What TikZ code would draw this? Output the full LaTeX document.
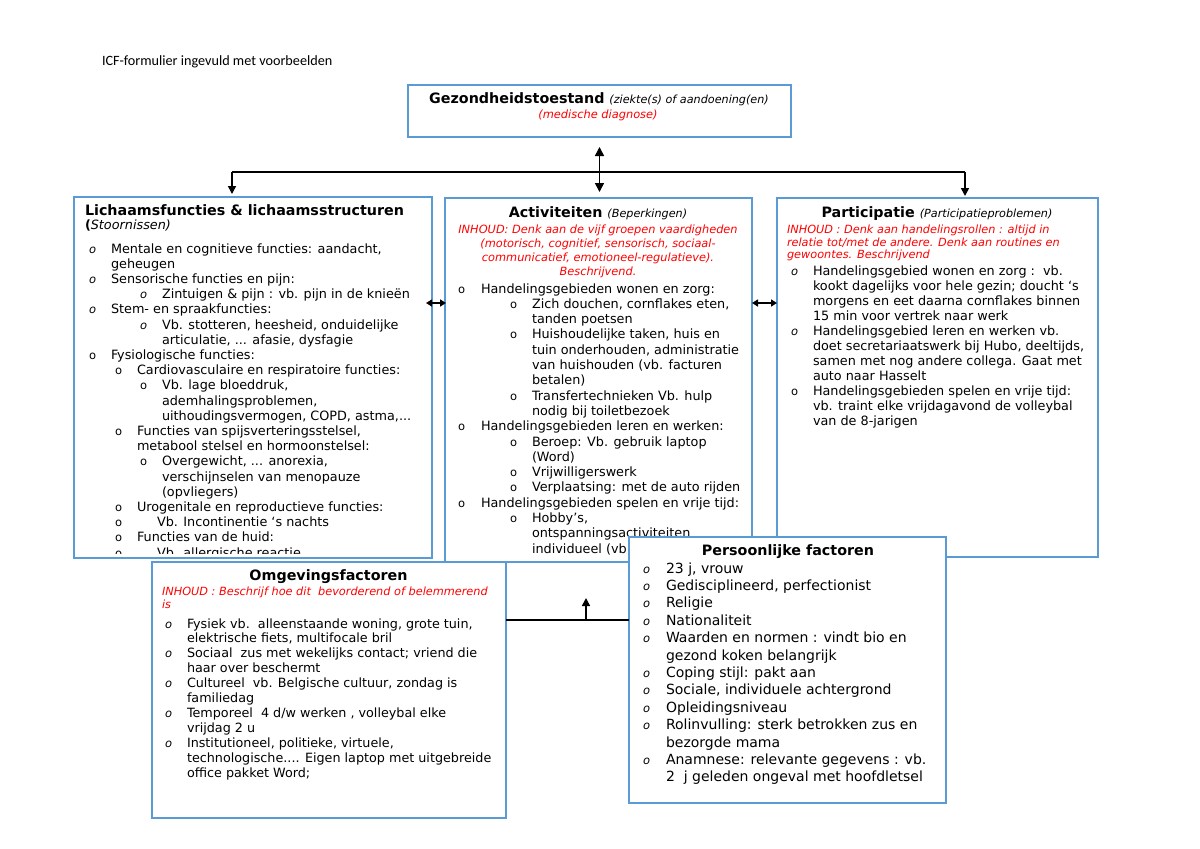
\documentclass[tikz,border=0pt]{standalone}
\usepackage{fontspec}
\setmainfont{DejaVu Sans}
\newfontfamily\calibfont{Carlito}
\usetikzlibrary{arrows.meta}
\definecolor{boxblue}{RGB}{91,155,213}
\newcounter{tn}
\newcommand\fz[2]{\fontsize{#1pt}{#2pt}\selectfont}
\tikzset{
 txt/.style={inner sep=0pt,outer sep=0pt,anchor=base west},
 ctxt/.style={inner sep=0pt,outer sep=0pt,anchor=base},
 box/.style={draw=boxblue,line width=2pt,fill=white,inner sep=0pt,outer sep=0pt},
 conn/.style={line width=1.6pt,black},
 arr/.style={conn,-{Triangle[length=8pt,width=8pt]}},
 dbl/.style={conn,{Triangle[length=9pt,width=9pt]}-{Triangle[length=9pt,width=9pt]}},
 sdbl/.style={conn,{Triangle[length=6pt,width=7pt]}-{Triangle[length=6pt,width=7pt]}},
}
\newcommand\txtL[3]{\stepcounter{tn}\node[txt] (t\arabic{tn}) at ({#1},{#2}) {#3};}
\newcommand\txtC[3]{\stepcounter{tn}\node[ctxt] (t\arabic{tn}) at ({#1},{#2}) {#3};}
\newcommand\lineL[3]{\txtL{#1}{253+15.2*#2}{#3}}
\newcommand\lineM[3]{\txtL{#1}{293+15.3*#2}{#3}}
\newcommand\lineR[3]{\txtL{#1}{275+15*#2}{#3}}
\newcommand\lineO[3]{\txtL{#1}{628+14.9*#2}{#3}}
\newcommand\lineP[3]{\txtL{#1}{573+17.4*#2}{#3}}
\newcommand\bit{{\fz{11.5}{11}\itshape o}}
\newcommand\bup{{\fz{11.5}{11}o}}
\newcommand\hd{\fz{14.3}{16}\bfseries}
\newcommand\sub{\fz{11.2}{12}\mdseries\itshape}
\begin{document}
\begin{tikzpicture}[x=1pt,y=-1pt]
\useasboundingbox (0,0) rectangle (1200,849);
\fill[white] (0,0) rectangle (1200,849);
\txtL{102}{65}{\calibfont\fz{14.2}{16}ICF-formulier ingevuld met voorbeelden}

% top box
\node[box,line width=2.5pt,minimum width=383pt,minimum height=52pt] (gez) at (599.5,111) {};
\txtC{599}{103}{\hd Gezondheidstoestand \sub (ziekte(s) of aandoening(en)}
\txtC{598}{118}{\fz{11.4}{13}\itshape\color{red}(medische diagnose)}

% left box
\node[box,minimum width=358pt,minimum height=361pt] (lich) at (253,377.5) {};
\begin{scope}[txt/.append style={font=\fz{12.8}{15}}]
\clip ([xshift=1pt,yshift=5pt]lich.south west) rectangle ([xshift=-1pt,yshift=-1pt]lich.north east);
\txtL{85}{215}{\hd Lichaamsfuncties \& lichaamsstructuren}
\txtL{85}{229}{\bfseries(\mdseries\itshape Stoornissen)}
\lineL{89}{0}{\bit}\lineL{111}{0}{Mentale en cognitieve functies: aandacht,}
\lineL{111}{1}{geheugen}
\lineL{89}{2}{\bit}\lineL{111}{2}{Sensorische functies en pijn:}
\lineL{140}{3}{\bit}\lineL{162}{3}{Zintuigen \& pijn : vb. pijn in de knieën}
\lineL{89}{4}{\bit}\lineL{111}{4}{Stem- en spraakfuncties:}
\lineL{140}{5}{\bit}\lineL{162}{5}{Vb. stotteren, heesheid, onduidelijke}
\lineL{162}{6}{articulatie, ... afasie, dysfagie}
\lineL{89}{7}{\bup}\lineL{111}{7}{Fysiologische functies:}
\lineL{115}{8}{\bup}\lineL{137}{8}{Cardiovasculaire en respiratoire functies:}
\lineL{140}{9}{\bup}\lineL{162}{9}{Vb. lage bloeddruk,}
\lineL{162}{10}{ademhalingsproblemen,}
\lineL{162}{11}{uithoudingsvermogen, COPD, astma,...}
\lineL{115}{12}{\bup}\lineL{137}{12}{Functies van spijsverteringsstelsel,}
\lineL{137}{13}{metabool stelsel en hormoonstelsel:}
\lineL{140}{14}{\bup}\lineL{162}{14}{Overgewicht, ... anorexia,}
\lineL{162}{15}{verschijnselen van menopauze}
\lineL{162}{16}{(opvliegers)}
\lineL{115}{17}{\bup}\lineL{137}{17}{Urogenitale en reproductieve functies:}
\lineL{115}{18}{\bup}\lineL{157}{18}{Vb. Incontinentie ‘s nachts}
\lineL{115}{19}{\bup}\lineL{137}{19}{Functies van de huid:}
\lineL{115}{20}{\bup}\lineL{157}{20}{Vb. allergische reactie}
\end{scope}

% middle box
\node[box,minimum width=307pt,minimum height=364pt] (act) at (598.5,380) {};
\begin{scope}[txt/.append style={font=\fz{12.8}{15}}]
\clip ([xshift=1pt,yshift=1pt]act.south west) rectangle ([xshift=-1pt,yshift=-1pt]act.north east);
\txtC{598}{217}{\hd Activiteiten \sub (Beperkingen)}
\txtC{598}{233}{\fz{11.35}{14}\itshape\color{red}INHOUD: Denk aan de vijf groepen vaardigheden}
\txtC{598}{247}{\fz{11.35}{14}\itshape\color{red}(motorisch, cognitief, sensorisch, sociaal-}
\txtC{598}{261}{\fz{11.35}{14}\itshape\color{red}communicatief, emotioneel-regulatieve).}
\txtC{598}{275}{\fz{11.35}{14}\itshape\color{red}Beschrijvend.}
\lineM{458}{0}{\bup}\lineM{481}{0}{Handelingsgebieden wonen en zorg:}
\lineM{510}{1}{\bup}\lineM{532}{1}{Zich douchen, cornflakes eten,}
\lineM{532}{2}{tanden poetsen}
\lineM{510}{3}{\bup}\lineM{532}{3}{Huishoudelijke taken, huis en}
\lineM{532}{4}{tuin onderhouden, administratie}
\lineM{532}{5}{van huishouden (vb. facturen}
\lineM{532}{6}{betalen)}
\lineM{510}{7}{\bup}\lineM{532}{7}{Transfertechnieken Vb. hulp}
\lineM{532}{8}{nodig bij toiletbezoek}
\lineM{458}{9}{\bup}\lineM{481}{9}{Handelingsgebieden leren en werken:}
\lineM{510}{10}{\bup}\lineM{532}{10}{Beroep: Vb. gebruik laptop}
\lineM{532}{11}{(Word)}
\lineM{510}{12}{\bup}\lineM{532}{12}{Vrijwilligerswerk}
\lineM{510}{13}{\bup}\lineM{532}{13}{Verplaatsing: met de auto rijden}
\lineM{458}{14}{\bup}\lineM{481}{14}{Handelingsgebieden spelen en vrije tijd:}
\lineM{510}{15}{\bup}\lineM{532}{15}{Hobby’s,}
\lineM{532}{16}{ontspanningsactiviteiten}
\lineM{532}{17}{individueel (vb}
\end{scope}

% right box
\node[box,minimum width=321pt,minimum height=359pt] (part) at (937.5,377.5) {};
\begin{scope}[txt/.append style={font=\fz{12.8}{15}}]
\txtC{937}{217}{\hd Participatie \sub (Participatieproblemen)}
\txtL{787}{233}{\fz{11.3}{12}\itshape\color{red}INHOUD : Denk aan handelingsrollen : altijd in}
\txtL{787}{246}{\fz{11.3}{12}\itshape\color{red}relatie tot/met de andere. Denk aan routines en}
\txtL{787}{258}{\fz{11.3}{12}\itshape\color{red}gewoontes. Beschrijvend}
\lineR{791}{0}{\bit}\lineR{813}{0}{Handelingsgebied wonen en zorg :\ \ vb.}
\lineR{813}{1}{kookt dagelijks voor hele gezin; doucht ‘s}
\lineR{813}{2}{morgens en eet daarna cornflakes binnen}
\lineR{813}{3}{15 min voor vertrek naar werk}
\lineR{791}{4}{\bit}\lineR{813}{4}{Handelingsgebied leren en werken vb.}
\lineR{813}{5}{doet secretariaatswerk bij Hubo, deeltijds,}
\lineR{813}{6}{samen met nog andere collega. Gaat met}
\lineR{813}{7}{auto naar Hasselt}
\lineR{791}{8}{\bup}\lineR{813}{8}{Handelingsgebieden spelen en vrije tijd:}
\lineR{813}{9}{vb. traint elke vrijdagavond de volleybal}
\lineR{813}{10}{van de 8-jarigen}
\end{scope}

% top connectors
\coordinate (hubL) at (232,172);
\coordinate (hubR) at (965,172);
\draw[conn] (hubL) -- (hubR);
\draw[arr] (hubL) -- ([yshift=3pt]hubL |- lich.north);
\draw[arr] (hubR) -- ([yshift=2pt]hubR |- part.north);
\draw[dbl] ([yshift=-10pt]gez.south) -- ([yshift=6pt]gez.south |- act.north);
\coordinate (yA) at (0,303);
\coordinate (la) at (lich.east |- yA);
\coordinate (lb) at (act.west |- yA);
\coordinate (ra) at (act.east |- yA);
\coordinate (rb) at (part.west |- yA);
\draw[sdbl] ([xshift=-6pt]la) -- ([xshift=1pt]lb);
\draw[sdbl] (ra) -- (rb);

% Omgevingsfactoren
\node[box,minimum width=354pt,minimum height=256pt] (omg) at (329,690) {};
\begin{scope}[txt/.append style={font=\fz{12.75}{15}}]
\txtC{328.5}{580}{\hd Omgevingsfactoren}
\txtL{162}{595}{\fz{11.3}{13}\itshape\color{red}INHOUD : Beschrijf hoe dit\ \ bevorderend of belemmerend}
\txtL{162}{608}{\fz{11.3}{13}\itshape\color{red}is}
\lineO{165}{0}{\bit}\lineO{187}{0}{Fysiek vb.\ \ alleenstaande woning, grote tuin,}
\lineO{187}{1}{elektrische fiets, multifocale bril}
\lineO{165}{2}{\bit}\lineO{187}{2}{Sociaal\ \ zus met wekelijks contact; vriend die}
\lineO{187}{3}{haar over beschermt}
\lineO{165}{4}{\bit}\lineO{187}{4}{Cultureel\ \ vb. Belgische cultuur, zondag is}
\lineO{187}{5}{familiedag}
\lineO{165}{6}{\bit}\lineO{187}{6}{Temporeel\ \ 4 d/w werken , volleybal elke}
\lineO{187}{7}{vrijdag 2 u}
\lineO{165}{8}{\bit}\lineO{187}{8}{Institutioneel, politieke, virtuele,}
\lineO{187}{9}{technologische.... Eigen laptop met uitgebreide}
\lineO{187}{10}{office pakket Word;}
\end{scope}

% Persoonlijke factoren
\node[box,minimum width=317pt,minimum height=266pt] (pers) at (787.5,670) {};
\begin{scope}[txt/.append style={font=\fz{14}{17}}]
\txtC{788}{555}{\hd Persoonlijke factoren}
\lineP{643}{0}{\bit}\lineP{666}{0}{23 j, vrouw}
\lineP{643}{1}{\bit}\lineP{666}{1}{Gedisciplineerd, perfectionist}
\lineP{643}{2}{\bit}\lineP{666}{2}{Religie}
\lineP{643}{3}{\bit}\lineP{666}{3}{Nationaliteit}
\lineP{643}{4}{\bit}\lineP{666}{4}{Waarden en normen : vindt bio en}
\lineP{666}{5}{gezond koken belangrijk}
\lineP{643}{6}{\bit}\lineP{666}{6}{Coping stijl: pakt aan}
\lineP{643}{7}{\bit}\lineP{666}{7}{Sociale, individuele achtergrond}
\lineP{643}{8}{\bit}\lineP{666}{8}{Opleidingsniveau}
\lineP{643}{9}{\bit}\lineP{666}{9}{Rolinvulling: sterk betrokken zus en}
\lineP{666}{10}{bezorgde mama}
\lineP{643}{11}{\bit}\lineP{666}{11}{Anamnese: relevante gegevens : vb.}
\lineP{666}{12}{2\ \ j geleden ongeval met hoofdletsel}
\end{scope}

% bottom connectors
\coordinate (yB) at (0,620);
\coordinate (oe) at (omg.east |- yB);
\coordinate (pw) at (pers.west |- yB);
\draw[conn] (oe) -- (pw);
\coordinate (ua) at (586,620);
\coordinate (ub) at (586,598);
\draw[arr] (ua) -- (ub);
\end{tikzpicture}
\end{document}
